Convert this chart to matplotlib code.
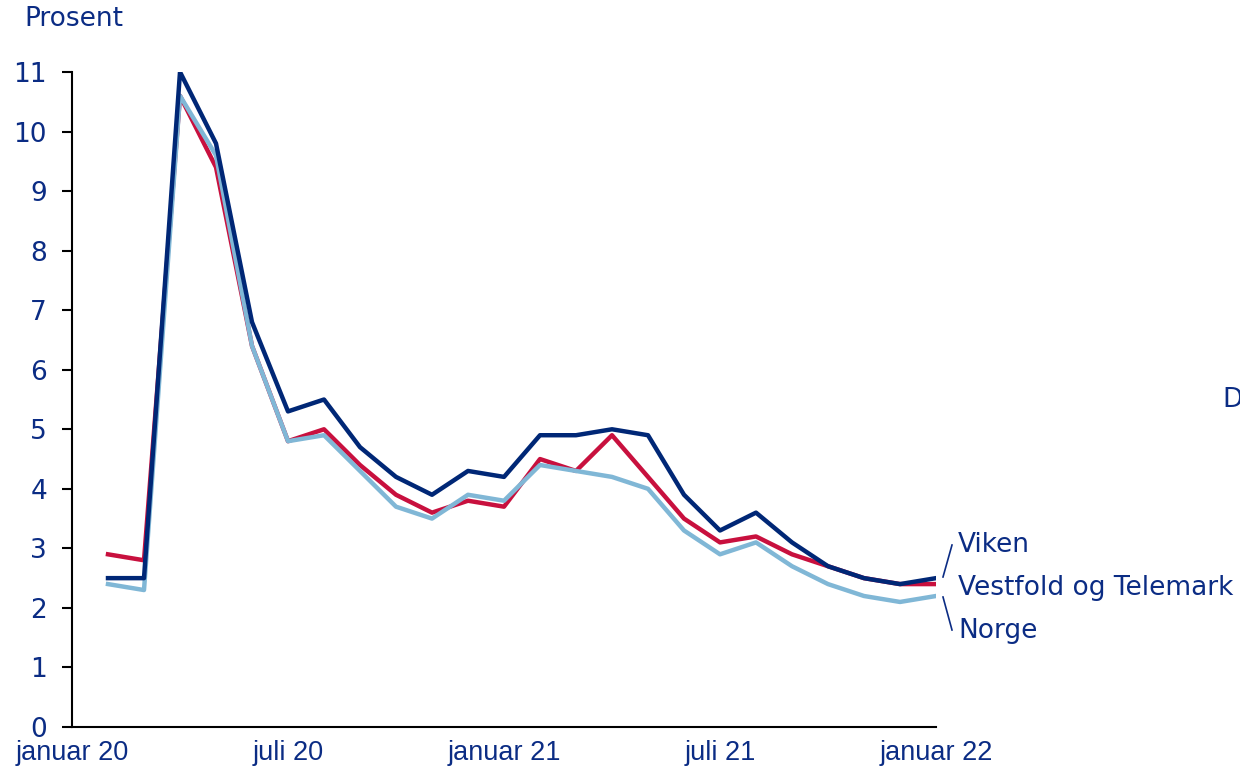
import numpy as np
import matplotlib.pyplot as plt

# month index: 0 = januar 2020, 24 = januar 2022 (data from februar 2020)
months = list(range(1, 25))
viken = [2.5, 2.5, 11.0, 9.8, 6.8, 5.3, 5.5, 4.7, 4.2, 3.9, 4.3, 4.2,
         4.9, 4.9, 5.0, 4.9, 3.9, 3.3, 3.6, 3.1, 2.7, 2.5, 2.4, 2.5]
vestfold = [2.9, 2.8, 10.6, 9.4, 6.4, 4.8, 5.0, 4.4, 3.9, 3.6, 3.8, 3.7,
            4.5, 4.3, 4.9, 4.2, 3.5, 3.1, 3.2, 2.9, 2.7, 2.5, 2.4, 2.4]
norge = [2.4, 2.3, 10.6, 9.6, 6.4, 4.8, 4.9, 4.3, 3.7, 3.5, 3.9, 3.8,
         4.4, 4.3, 4.2, 4.0, 3.3, 2.9, 3.1, 2.7, 2.4, 2.2, 2.1, 2.2]
xtick_pos = [0, 6, 12, 18, 24]
xtick_labels = ["januar 20", "juli 20", "januar 21", "juli 21", "januar 22"]

navy = "#002776"
red = "#C8103E"
light = "#80B7D6"
txt = "#0B2C84"
fs = 19

fig = plt.figure(figsize=(12.4, 7.68), dpi=100)
ax = fig.add_axes([72 / 1240, 1 - 727 / 768, 864 / 1240, 655 / 768])

ax.plot(months, vestfold, color=red, lw=3.2, zorder=2)
ax.plot(months, norge, color=light, lw=3.2, zorder=3)
ax.plot(months, viken, color=navy, lw=3.2, zorder=4)

ax.set_xlim(0, 24)
ax.set_ylim(0, 11)
ax.set_yticks(range(0, 12))
ax.set_xticks(xtick_pos)
ax.set_xticklabels(xtick_labels, fontfamily="Liberation Sans", fontsize=19.5, color=txt)
ax.tick_params(axis="x", length=0, pad=9)
ax.tick_params(axis="y", length=7, width=1.5, pad=11, labelsize=fs, labelcolor=txt)

for s in ["top", "right"]:
    ax.spines[s].set_visible(False)
ax.spines["left"].set_linewidth(1.5)
ax.spines["bottom"].set_linewidth(1.5)
ax.patch.set_alpha(0)

fig.text(24 / 1240, 1 - 19 / 768, "Prosent", fontsize=fs, color=txt, va="center", ha="left")

# series labels with leader lines
fig.add_artist(plt.Line2D([943 / 1240, 952 / 1240], [1 - 577 / 768, 1 - 545 / 768], color=txt, lw=1.2))
fig.add_artist(plt.Line2D([943 / 1240, 952 / 1240], [1 - 597 / 768, 1 - 630 / 768], color=txt, lw=1.2))
fig.text(958 / 1240, 1 - 545 / 768, "Viken", fontsize=fs, color=txt, va="center")
fig.text(958 / 1240, 1 - 588 / 768, "Vestfold og Telemark", fontsize=fs, color=txt, va="center")
fig.text(958 / 1240, 1 - 631 / 768, "Norge", fontsize=fs, color=txt, va="center")
fig.text(1222 / 1240, 1 - 400 / 768, "D", fontsize=fs, color=txt, va="center")

fig.savefig("out.png", dpi=100)
